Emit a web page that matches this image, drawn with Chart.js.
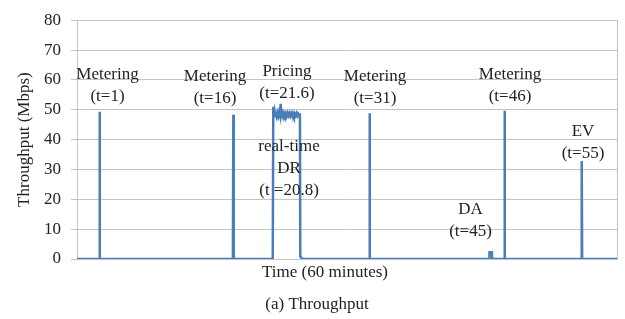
<!DOCTYPE html>
<html>
<head>
<meta charset="utf-8">
<script src="https://cdn.jsdelivr.net/npm/chart.js@4"></script>
<style>
  html, body { margin: 0; padding: 0; background: #fff; }
  #wrap { width: 625px; height: 319px; position: relative; }
</style>
</head>
<body>
<div id="wrap"><canvas id="throughputChart" width="625" height="319"></canvas></div>
<script>
// time in minutes, throughput in Mbps
const timeMin = [
    -1.5, 0.95, 1, 1.05,
    15.82, 15.87, 15.92,
    20.25, 20.31, 20.36, 20.45, 20.52, 20.6, 20.68, 20.75, 20.85, 20.95, 21.05, 21.13, 21.2,
    21.3, 21.4, 21.5, 21.6, 21.7, 21.8, 21.9, 22.0, 22.1, 22.2, 22.3, 22.4, 22.5, 22.6,
    22.7, 22.8, 22.9, 23.0, 23.1, 23.2, 23.27, 23.31, 23.45, 23.6,
    30.95, 31, 31.05,
    44.3, 44.33, 44.6, 44.63,
    45.95, 46, 46.05,
    54.53, 54.58, 54.63,
    58.5
];
const throughput = [
    0, 0, 49.3, 0,
    0, 48.3, 0,
    0, 51, 48, 49.5, 47.8, 49.3, 48, 49, 47.8, 49.2, 48, 52, 48,
    49, 47.8, 48.9, 48, 48.8, 47.9, 48.9, 48, 48.8, 47.9, 48.8, 48, 48.9, 47.9,
    48.7, 48, 48.8, 47.9, 48.6, 48.1, 48.8, 0.8, 0.3, 0,
    0, 48.8, 0,
    0, 2.3, 2.3, 0,
    0, 49.7, 0,
    0, 32.8, 0,
    0
];
const yTicks = [0, 10, 20, 30, 40, 50, 60, 70, 80];

// event annotations: text lines and where the first line sits (minutes, Mbps)
const eventLines = [
    ['Metering', '(t=1)'],
    ['Metering', '(t=16)'],
    ['Pricing', '(t=21.6)'],
    ['real-time', 'DR', '(t =20.8)'],
    ['Metering', '(t=31)'],
    ['Metering', '(t=46)'],
    ['DA', '(t=45)'],
    ['EV', '(t=55)']
];
const eventX = [1.89, 13.83, 21.83, 22.06, 31.61, 46.61, 42.22, 54.72];
const eventY = [61.8, 61.2, 62.8, 37.6, 61.2, 61.9, 16.5, 42.85];

const serif = '"Liberation Serif", "Times New Roman", serif';
const textColor = '#222';
const gridColor = '#c4c4c4';

const textPlugin = {
    id: 'textPlugin',
    afterDraw(chart) {
        const ctx = chart.ctx;
        const xs = chart.scales.x, ys = chart.scales.y;
        const area = chart.chartArea;
        ctx.save();
        // right border of plot area
        ctx.strokeStyle = gridColor;
        ctx.lineWidth = 1;
        ctx.beginPath();
        ctx.moveTo(area.right + 0.5, area.top);
        ctx.lineTo(area.right + 0.5, area.bottom);
        ctx.stroke();

        ctx.fillStyle = textColor;
        ctx.font = '17px ' + serif;
        ctx.textAlign = 'center';
        ctx.textBaseline = 'middle';
        eventLines.forEach((lines, i) => {
            const px = xs.getPixelForValue(eventX[i]);
            const py = ys.getPixelForValue(eventY[i]);
            lines.forEach((s, j) => ctx.fillText(s, px, py + j * 22));
        });

        ctx.fillText('Time (60 minutes)', 325, 273);
        ctx.fillText('(a) Throughput', 317, 305);

        ctx.translate(25, (area.top + area.bottom) / 2);
        ctx.rotate(-Math.PI / 2);
        ctx.fillText('Throughput (Mbps)', 0, 0);
        ctx.restore();
    }
};

new Chart(document.getElementById('throughputChart'), {
    type: 'line',
    data: {
        labels: timeMin,
        datasets: [{
            data: timeMin.map((t, i) => ({x: t, y: throughput[i]})),
            borderColor: '#4a7ebb',
            borderWidth: 2.5,
            pointRadius: 0,
            tension: 0,
            fill: false
        }]
    },
    options: {
        responsive: false,
        animation: false,
        layout: {padding: {top: 12, right: 8, left: 0, bottom: 0}},
        plugins: {legend: {display: false}, tooltip: {enabled: false}},
        scales: {
            x: {
                type: 'linear',
                min: -1.5,
                max: 58.5,
                grid: {display: false},
                border: {display: true, color: gridColor},
                ticks: {display: false},
                afterFit: (scale) => { scale.height = 60; }
            },
            y: {
                min: 0,
                max: 80,
                afterBuildTicks: (scale) => { scale.ticks = yTicks.map(v => ({value: v})); },
                grid: {color: gridColor, tickLength: 6},
                border: {display: true, color: gridColor},
                ticks: {
                    padding: 10,
                    color: textColor,
                    font: {family: serif, size: 17}
                },
                afterFit: (scale) => { scale.width = 77; }
            }
        }
    },
    plugins: [textPlugin]
});
</script>
</body>
</html>
